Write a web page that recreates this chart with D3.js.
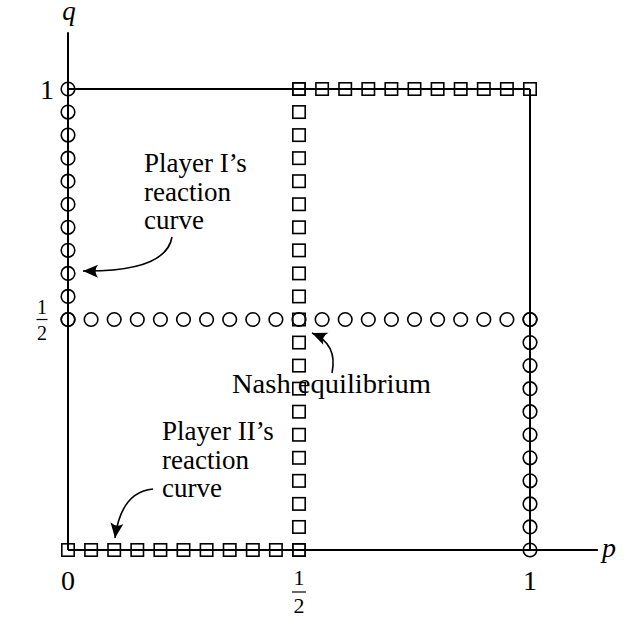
<!DOCTYPE html>
<html><head><meta charset="utf-8">
<script src="https://cdn.jsdelivr.net/npm/d3@7"></script>
<style>body{margin:0;background:#fff}svg{display:block}text{font-family:"Liberation Serif","Times New Roman",serif;fill:#000}</style>
</head><body>
<svg id="c" width="633" height="620"></svg>
<script>
// Strategy grid positions (markers every 0.05)
const lowerHalf = [0,0.05,0.1,0.15,0.2,0.25,0.3,0.35,0.4,0.45,0.5];
const upperHalf = [0.5,0.55,0.6,0.65,0.7,0.75,0.8,0.85,0.9,0.95,1];
const fullRange = [0,0.05,0.1,0.15,0.2,0.25,0.3,0.35,0.4,0.45,0.5,0.55,0.6,0.65,0.7,0.75,0.8,0.85,0.9,0.95,1];
// Player I's reaction curve (circles): p=0 for q>1/2, any p at q=1/2, p=1 for q<1/2
const playerI_left_q = upperHalf;   // at p = 0
const playerI_mid_p = fullRange;    // at q = 1/2
const playerI_right_q = lowerHalf;  // at p = 1
// Player II's reaction curve (squares): q=0 for p<1/2, any q at p=1/2, q=1 for p>1/2
const playerII_bottom_p = lowerHalf; // at q = 0
const playerII_mid_q = fullRange;    // at p = 1/2
const playerII_top_p = upperHalf;    // at q = 1
const xTicks = [{v:0,t:"0"},{v:0.5,t:"frac"},{v:1,t:"1"}];
const yTicks = [{v:0.5,t:"frac"},{v:1,t:"1"}];

const svg = d3.select("#c");
const x = d3.scaleLinear().domain([0,1]).range([68,530]);
const y = d3.scaleLinear().domain([0,1]).range([550,89]);

const defs = svg.append("defs");
defs.append("marker").attr("id","ah").attr("viewBox","-16 -8 18 16")
  .attr("refX",0).attr("refY",0).attr("markerWidth",18).attr("markerHeight",16)
  .attr("markerUnits","userSpaceOnUse").attr("orient","auto")
  .append("path").attr("d","M0,0 L-15,-6.5 Q-10,0 -15,6.5 Z").attr("fill","#000");

// axes
svg.append("line").attr("x1",x(0)).attr("x2",x(0)).attr("y1",y(0)).attr("y2",y(1.123)).attr("stroke","#000").attr("stroke-width",2);
svg.append("line").attr("x1",x(0)).attr("x2",x(1.147)).attr("y1",y(0)).attr("y2",y(0)).attr("stroke","#000").attr("stroke-width",2);
// frame
svg.append("line").attr("x1",x(0)).attr("x2",x(1)).attr("y1",y(1)).attr("y2",y(1)).attr("stroke","#000").attr("stroke-width",2);
svg.append("line").attr("x1",x(1)).attr("x2",x(1)).attr("y1",y(1)).attr("y2",y(0)).attr("stroke","#000").attr("stroke-width",2);

// circles
const circ = [].concat(
  playerI_left_q.map(q=>[0,q]),
  playerI_mid_p.map(p=>[p,0.5]),
  playerI_right_q.map(q=>[1,q]));
svg.append("g").selectAll("circle").data(circ).join("circle")
  .attr("cx",d=>x(d[0])).attr("cy",d=>y(d[1])).attr("r",6.8)
  .attr("fill","none").attr("stroke","#000").attr("stroke-width",1.6);

// squares
const sq = [].concat(
  playerII_bottom_p.map(p=>[p,0]),
  playerII_mid_q.map(q=>[0.5,q]),
  playerII_top_p.map(p=>[p,1]));
const s = 12.4;
svg.append("g").selectAll("rect").data(sq).join("rect")
  .attr("x",d=>x(d[0])-s/2).attr("y",d=>y(d[1])-s/2).attr("width",s).attr("height",s)
  .attr("fill","none").attr("stroke","#000").attr("stroke-width",1.6);

// axis titles
svg.append("text").attr("x",69).attr("y",20).attr("text-anchor","middle").attr("font-size",27).attr("font-style","italic").text("q");
svg.append("text").attr("x",602).attr("y",557).attr("font-size",28).attr("font-style","italic").text("p");

function frac(cx, cy, fs, up, down, half){
  const g = svg.append("g");
  g.append("text").attr("x",cx).attr("y",cy-up).attr("text-anchor","middle").attr("font-size",fs).text("1");
  g.append("line").attr("x1",cx-half).attr("x2",cx+half).attr("y1",cy).attr("y2",cy).attr("stroke","#000").attr("stroke-width",1.2);
  g.append("text").attr("x",cx).attr("y",cy+down).attr("text-anchor","middle").attr("font-size",fs).text("2");
}
// ticks
xTicks.forEach(d=>{
  if(d.t==="frac") frac(x(d.v), 592, 22, 7, 21, 7);
  else svg.append("text").attr("x",x(d.v)).attr("y",590).attr("text-anchor","middle").attr("font-size",28).text(d.t);
});
yTicks.forEach(d=>{
  if(d.t==="frac") frac(42, y(d.v), 20, 6, 20, 5.5);
  else svg.append("text").attr("x",54).attr("y",y(d.v)+10).attr("text-anchor","end").attr("font-size",28).text(d.t);
});

// annotations
function label(lines, x0, y0, lh){
  const t = svg.append("text").attr("font-size",27);
  lines.forEach((l,i)=>t.append("tspan").attr("x",x0).attr("y",y0+i*lh).text(l));
}
label(["Player I\u2019s","reaction","curve"],144,172,28.5);
label(["Player II\u2019s","reaction","curve"],162,440,28.5);
svg.append("text").attr("x",232).attr("y",393).attr("font-size",27.5)
  .attr("textLength",199).attr("lengthAdjust","spacingAndGlyphs").text("Nash equilibrium");

svg.append("path").attr("d","M172,237 Q166,272 83,271").attr("fill","none").attr("stroke","#000").attr("stroke-width",1.6).attr("marker-end","url(#ah)");
svg.append("path").attr("d","M153,489 Q121,492 115,538").attr("fill","none").attr("stroke","#000").attr("stroke-width",1.6).attr("marker-end","url(#ah)");
svg.append("path").attr("d","M332,373 Q338,344 312,333").attr("fill","none").attr("stroke","#000").attr("stroke-width",1.6).attr("marker-end","url(#ah)");
</script>
</body></html>
